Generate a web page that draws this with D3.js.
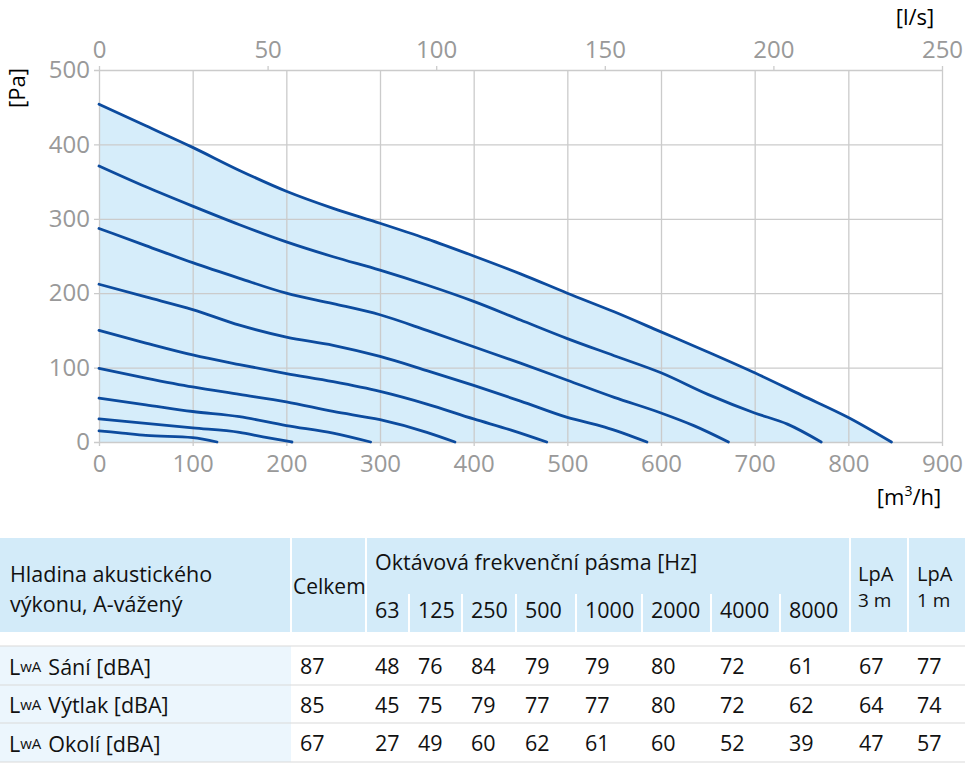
<!DOCTYPE html>
<html>
<head>
<meta charset="utf-8">
<script src="https://cdn.jsdelivr.net/npm/d3@7"></script>
<style>
  body { margin: 0; background: #fff; }
  text { font-family: "Open Sans", sans-serif; }
</style>
</head>
<body>
<div id="chart"></div>
<script>
// fan curves, [flow m3/h, pressure Pa]
const curve10 = [[0,454],[50,425],[100,396],[150,365],[200,337],[250,314],[300,294],[350,273],[400,250],[450,226],[500,200],[550,175],[600,148],[650,121],[700,93],[750,63],[800,33],[846,0]];
const curve9 = [[0,371],[50,343],[100,317],[150,292],[200,269],[250,249],[300,231],[350,211],[400,189],[450,164],[500,139],[550,116],[600,93],[650,64],[700,39],[735,24],[771,0]];
const curve8 = [[0,287],[50,264],[100,241],[150,220],[200,200],[250,186],[300,171],[350,150],[400,128],[450,106],[500,83],[550,60],[600,39],[635,22],[672,0]];
const curve7 = [[0,212],[50,195],[100,178],[150,157],[200,141],[250,130],[300,115],[350,96],[400,76],[450,55],[500,33],[540,20],[585,0]];
const curve6 = [[0,150],[50,133],[100,117],[150,104],[200,92],[250,81],[300,68],[350,51],[400,31],[440,16],[478,0]];
const curve5 = [[0,99],[50,86],[100,74],[150,64],[200,54],[250,41],[300,30],[350,13],[380,0]];
const curve4 = [[0,59],[50,50],[100,41],[150,34],[200,22],[250,12],[290,0]];
const curve3 = [[0,31],[50,25],[100,19],[150,13],[175,7],[206,0]];
const curve2 = [[0,15],[25,12],[50,9],[100,6],[126,0]];

const curves = [curve10, curve9, curve8, curve7, curve6, curve5, curve4, curve3, curve2];

const flowTicks = [0,100,200,300,400,500,600,700,800,900];
const litreTicks = [0,50,100,150,200,250];
const pressureTicks = [0,100,200,300,400,500];

// sound table
const bandLabels = ['63','125','250','500','1000','2000','4000','8000'];
const rowLabels = ['Sání [dBA]','Výtlak [dBA]','Okolí [dBA]'];
const totalValues = [87,85,67];
const bandValues = [
  [48,76,84,79,79,80,72,61],
  [45,75,79,77,77,80,72,62],
  [27,49,60,62,61,60,52,39]
];
const lpa3Values = [67,64,47];
const lpa1Values = [77,74,57];

const W = 966, H = 763;
const gridColor = '#cbcbcb', tickColor = '#999999';
const lineColor = '#0c4b9e', fillColor = '#d6edfa';

const svg = d3.select('#chart').append('svg')
  .attr('width', W).attr('height', H);

const x = d3.scaleLinear().domain([0, 900]).range([99, 942]);
const xLs = d3.scaleLinear().domain([0, 250]).range([99, 942]);
const y = d3.scaleLinear().domain([0, 500]).range([442, 70]);
const plotW = 942 - 99, plotH = 442 - 70;

// fill under the highest curve
svg.append('path')
  .datum(curve10)
  .attr('d', d3.area().x(d => x(d[0])).y0(y(0)).y1(d => y(d[1])).curve(d3.curveMonotoneX))
  .attr('fill', fillColor);

// grid + bottom axis
let gx = svg.append('g')
  .attr('transform', 'translate(0,' + y(0) + ')')
  .call(d3.axisBottom(x).tickValues(flowTicks).tickSize(-plotH).tickPadding(13));
gx.selectAll('.tick line').attr('y1', 4);

let gy = svg.append('g')
  .attr('transform', 'translate(' + x(0) + ',0)')
  .call(d3.axisLeft(y).tickValues(pressureTicks).tickSize(-plotW).tickPadding(9));
gy.selectAll('.tick line').attr('x1', -5);

let gt = svg.append('g')
  .attr('transform', 'translate(0,' + y(500) + ')')
  .call(d3.axisTop(xLs).tickValues(litreTicks).tickSize(4).tickPadding(8));

[gx, gy, gt].forEach(g => {
  g.select('.domain').remove();
  g.selectAll('.tick line').attr('stroke', gridColor).attr('stroke-width', 1.3);
  g.selectAll('.tick text')
    .attr('fill', tickColor)
    .style('font-size', '24px')
    .style('font-family', '"Open Sans", sans-serif');
});

// curves
const line = d3.line().x(d => x(d[0])).y(d => y(d[1])).curve(d3.curveMonotoneX);
svg.append('g').selectAll('path')
  .data(curves)
  .enter()
  .append('path')
  .attr('d', line)
  .attr('fill', 'none')
  .attr('stroke', lineColor)
  .attr('stroke-width', 2.8)
  .attr('stroke-linecap', 'round');

// unit labels
svg.append('text')
  .attr('transform', 'translate(25,88) rotate(-90)')
  .attr('text-anchor', 'middle')
  .style('font-size', '22px')
  .text('[Pa]');
svg.append('text')
  .attr('x', 915).attr('y', 25)
  .attr('text-anchor', 'middle')
  .style('font-size', '22px')
  .text('[l/s]');
let unitText = svg.append('text')
  .attr('x', 909).attr('y', 505)
  .attr('text-anchor', 'middle')
  .style('font-size', '22px');
unitText.append('tspan').text('[m');
unitText.append('tspan').attr('dy', -9).style('font-size', '14px').text('3');
unitText.append('tspan').attr('dy', 9).text('/h]');

// ---- table ----
const headTop = 538, headBottom = 632;
const rowLines = [646, 685, 723, 762];
// column edges: label, Celkem, 8 bands, LpA 3 m, LpA 1 m
const colEdges = [0, 291, 366, 409, 462, 516, 576, 642, 711, 780, 850, 908, 965];
const tableFont = '21.5px';

svg.append('rect')
  .attr('x', 0).attr('y', headTop)
  .attr('width', 965).attr('height', headBottom - headTop)
  .attr('fill', '#d3ebf9');

// white separators in the header
[1, 2, 10, 11].forEach(i => {
  svg.append('line')
    .attr('x1', colEdges[i]).attr('x2', colEdges[i])
    .attr('y1', headTop).attr('y2', headBottom)
    .attr('stroke', '#fff').attr('stroke-width', 2);
});
for (let i = 3; i < 10; i++) {
  svg.append('line')
    .attr('x1', colEdges[i]).attr('x2', colEdges[i])
    .attr('y1', 594).attr('y2', headBottom)
    .attr('stroke', '#fff').attr('stroke-width', 2);
}

// label column background in body
svg.append('rect')
  .attr('x', 0).attr('y', rowLines[0])
  .attr('width', colEdges[1]).attr('height', rowLines[3] - rowLines[0])
  .attr('fill', '#ecf6fd');

rowLines.forEach(ly => {
  svg.append('line')
    .attr('x1', 0).attr('x2', 965)
    .attr('y1', ly).attr('y2', ly)
    .attr('stroke', '#dadada').attr('stroke-width', 1.2);
});

function cellText(tx, ty, str, size) {
  return svg.append('text')
    .attr('x', tx).attr('y', ty)
    .attr('dominant-baseline', 'central')
    .attr('fill', '#111')
    .style('font-size', size || tableFont)
    .text(str);
}

// header texts
cellText(10, 573, 'Hladina akustického');
cellText(10, 603, 'výkonu, A-vážený');
cellText(293, 586, 'Celkem', '21px');
cellText(375, 561, 'Oktávová frekvenční pásma [Hz]');
bandLabels.forEach((b, i) => cellText(colEdges[i + 2] + 9, 609, b));
cellText(colEdges[10] + 8, 573, 'LpA', '20px');
cellText(colEdges[10] + 8, 600, '3 m', '19px');
cellText(colEdges[11] + 9, 573, 'LpA', '20px');
cellText(colEdges[11] + 9, 600, '1 m', '19px');

// body rows
rowLabels.forEach((lab, r) => {
  let cy = (rowLines[r] + rowLines[r + 1]) / 2;
  let t = svg.append('text')
    .attr('x', 9).attr('y', cy)
    .attr('dominant-baseline', 'central')
    .attr('fill', '#111')
    .style('font-size', tableFont);
  t.append('tspan').text('L');
  t.append('tspan').style('font-size', '15px').text('wA');
  t.append('tspan').attr('dx', 7).text(lab);

  cellText(colEdges[1] + 9, cy, totalValues[r]);
  bandValues[r].forEach((v, i) => cellText(colEdges[i + 2] + 9, cy, v));
  cellText(colEdges[10] + 9, cy, lpa3Values[r]);
  cellText(colEdges[11] + 9, cy, lpa1Values[r]);
});
</script>
</body>
</html>
